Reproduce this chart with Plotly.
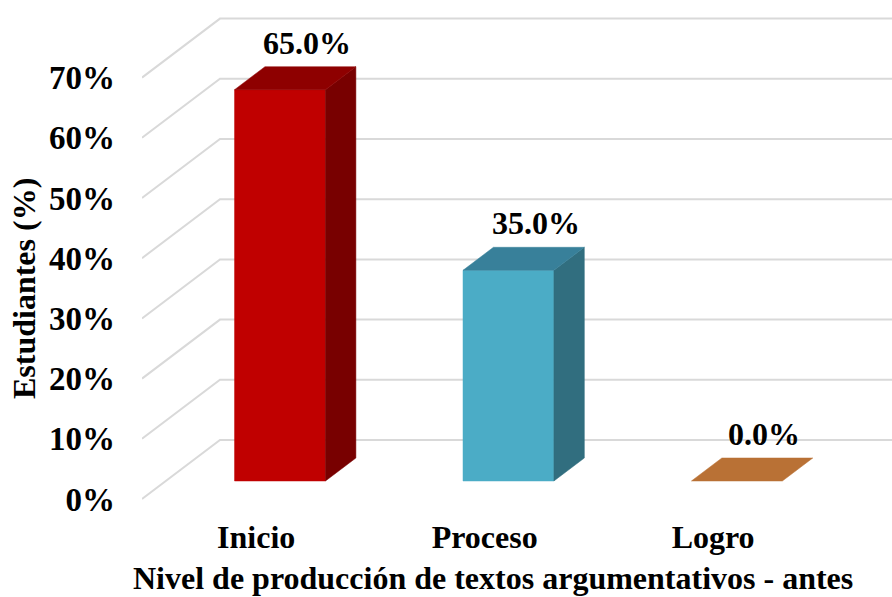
import plotly.graph_objects as go

categories = ["Inicio", "Proceso", "Logro"]
values = [65.0, 35.0, 0.0]
ticks = [0, 10, 20, 30, 40, 50, 60, 70]
front_colors = ["#C00000", "#4BACC6", "#B97135"]
top_colors = ["#8E0000", "#38809A", "#B97135"]
side_colors = ["#780000", "#316E7F", "#B97135"]
FONT = "Liberation Serif"

X_MIN, X_MAX = -0.5, 2.783
WALL_DX, WALL_DY = 0.3414, 9.8      # floor depth, in axis units
NEAR, FAR = 0.305, 0.695            # bar depth as a share of the floor depth
HALF = 0.199                        # half bar width, category units


def proj(x, v, d):
    return x + d * WALL_DX, v + d * WALL_DY


fig = go.Figure()

# Wall and floor gridlines
gx, gy = [], []
for t in ticks:
    bx, by = proj(X_MIN, t, 1)
    gx += [X_MIN, bx, X_MAX, None]
    gy += [t, by, by, None]
fig.add_trace(go.Scatter(x=gx, y=gy, mode="lines", hoverinfo="skip", showlegend=False,
                         line=dict(color="#D9D9D9", width=2)))


def face(pts, color):
    xs = [p[0] for p in pts] + [pts[0][0]]
    ys = [p[1] for p in pts] + [pts[0][1]]
    fig.add_trace(go.Scatter(x=xs, y=ys, mode="lines", fill="toself", fillcolor=color,
                             line=dict(color=color, width=0.5), hoverinfo="skip", showlegend=False))


for i, v in enumerate(values):
    l, r = i - HALF, i + HALF
    if v > 0:
        face([proj(l, 0, NEAR), proj(r, 0, NEAR), proj(r, v, NEAR), proj(l, v, NEAR)], front_colors[i])
        face([proj(r, 0, NEAR), proj(r, 0, FAR), proj(r, v, FAR), proj(r, v, NEAR)], side_colors[i])
    face([proj(l, v, NEAR), proj(r, v, NEAR), proj(r, v, FAR), proj(l, v, FAR)], top_colors[i])
    tx, ty = proj(i, v, FAR)
    fig.add_annotation(x=tx, y=ty, text=f"<b>{v:.1f}%</b>", showarrow=False, yanchor="middle",
                       yshift=24, xshift=-3, font=dict(family=FONT, size=32, color="#000000"))

fig.add_annotation(xref="paper", yref="paper", x=-0.1565, y=0.44, xanchor="center", yanchor="middle",
                   text="<b>Estudiantes (%)</b>",
                   textangle=-90, showarrow=False, font=dict(family=FONT, size=32, color="#000000"))
fig.add_annotation(xref="paper", yref="paper", x=0.468, y=-0.1225, xanchor="center", yanchor="middle",
                   text="<b>Nivel de producción de textos argumentativos - antes</b>",
                   showarrow=False, font=dict(family=FONT, size=32, color="#000000"))

fig.update_layout(
    width=892, height=597, autosize=False, showlegend=False,
    paper_bgcolor="white", plot_bgcolor="white",
    margin=dict(l=142, r=0, t=0, b=82, autoexpand=False),
    xaxis=dict(range=[X_MIN, X_MAX], tickvals=list(range(len(categories))), ticktext=[f"<b>{c}</b>" for c in categories],
               showgrid=False, zeroline=False, showline=False, ticks="", ticklen=0, automargin=False,
               tickfont=dict(family=FONT, size=32, color="#000000")),
    yaxis=dict(range=[-2.66, 82.89], tickvals=ticks, ticktext=[f"<b>{t}%</b>" for t in ticks],
               showgrid=False, zeroline=False, showline=False, ticks="", ticklen=0, automargin=False,
               ticklabelstandoff=26,
               tickfont=dict(family=FONT, size=33, color="#000000")),
)

fig.write_html("out.html", post_script="document.body.style.margin='0';", config={"displayModeBar": False})
